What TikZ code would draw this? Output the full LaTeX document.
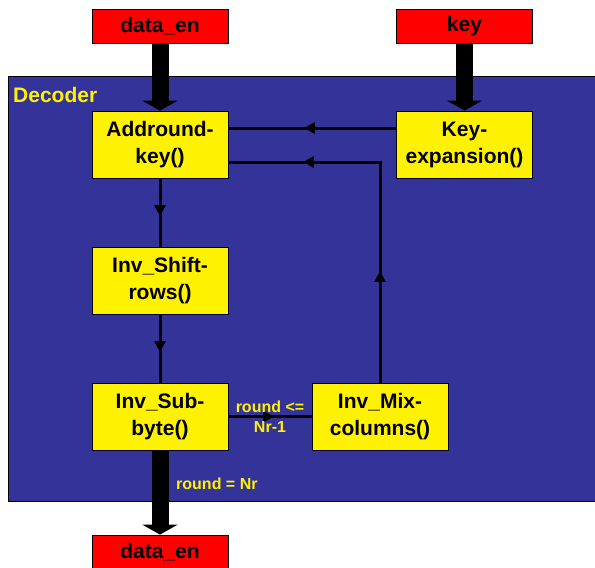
\documentclass[tikz,border=0pt]{standalone}
\usepackage{fontspec}
\setmainfont{Liberation Sans}
\usetikzlibrary{arrows.meta,decorations.markings}
\definecolor{decblue}{HTML}{333399}
\begin{document}
\begin{tikzpicture}[x=1pt,y=-1pt,
  box/.style={draw=black, line width=0.8pt, fill=yellow, minimum width=136pt, minimum height=67pt, inner sep=0pt, align=center, font=\fontsize{21}{27}\selectfont\bfseries},
  iobox/.style={draw=black, line width=0.8pt, fill=red, minimum width=136pt, minimum height=34pt, inner sep=0pt, font=\fontsize{21}{24}\selectfont\bfseries},
  bigarrow/.style={line width=17pt, -{Triangle[width=35pt,length=10pt]}},
  wire/.style={line width=3pt},
  midarrow/.style={postaction={decorate}, decoration={markings, mark=at position #1 with {\arrow{Triangle[width=11pt,length=11pt]}}}},
  midarrow/.default=0.55,
  twoarrows/.style={postaction={decorate}, decoration={markings,
      mark=at position 0.30 with {\arrow{Triangle[width=11pt,length=11pt]}},
      mark=at position 0.80 with {\arrow{Triangle[width=11pt,length=11pt]}}}},
  lbl/.style={text=yellow, font=\fontsize{16}{20}\selectfont\bfseries, inner sep=0pt, align=center}]
\useasboundingbox (0,0) rectangle (595,568);
\node[draw=black, line width=0.8pt, fill=decblue, minimum width=592pt, minimum height=425pt, inner sep=0pt] (dec) at (304,288.5) {};
\node[lbl, anchor=west, font=\fontsize{21}{24}\selectfont\bfseries] (declbl) at (13,95) {Decoder};

\node[iobox] (din) at (160,26) {data\_en};
\node[iobox] (key) at (464.5,26) {key};
\node[iobox] (dout) at (160,552) {data\_en};

\node[box] (ark) at (160,144.5) {Addround-\\key()};
\node[box] (kex) at (464.5,144.5) {Key-\\expansion()};
\node[box] (shift) at (160,281) {Inv\_Shift-\\rows()};
\node[box] (sub) at (160,416.5) {Inv\_Sub-\\byte()};
\node[box] (mix) at (380,416.5) {Inv\_Mix-\\columns()};

\coordinate (y1) at (0,128);
\coordinate (corner) at (380,162);

\draw[bigarrow] (din.south) -- (ark.north);
\draw[bigarrow] (key.south) -- (kex.north);
\draw[bigarrow] (sub.south) -- (dout.north);

\draw[wire, midarrow] (kex.west |- y1) -- (ark.east |- y1);
\draw[wire, twoarrows] (mix.north) -- (corner) -- (ark.east |- corner);
\draw[wire, midarrow] (ark.south) -- (shift.north);
\draw[wire, midarrow] (shift.south) -- (sub.north);
\draw[wire, midarrow] (sub.east) -- (mix.west);

\node[lbl] (cond1) at (270,417) {round <=\\Nr-1};
\node[lbl, anchor=west] (cond2) at (176,484) {round = Nr};
\end{tikzpicture}
\end{document}
